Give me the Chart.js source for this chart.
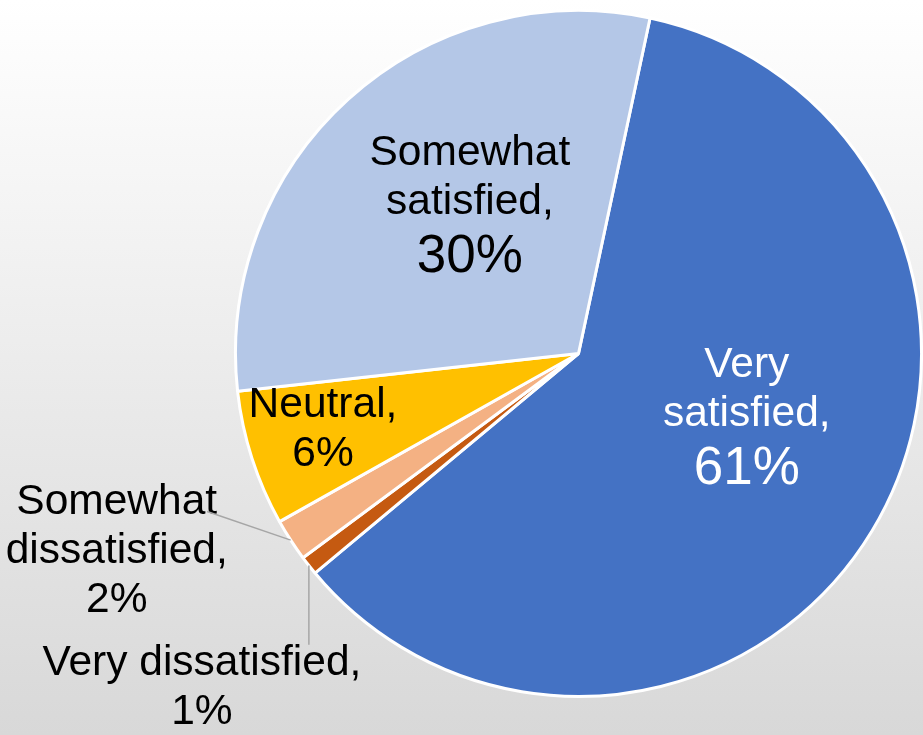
<!DOCTYPE html>
<html><head><meta charset="utf-8">
<script src="https://cdn.jsdelivr.net/npm/chart.js@4.4.1/dist/chart.umd.min.js"></script>
<style>
html,body{margin:0;padding:0;width:923px;height:735px;overflow:hidden;background:linear-gradient(to bottom,#ffffff 0%,#d8d8d8 100%);}
canvas{display:block;}
</style></head><body>
<canvas id="c" width="923" height="735"></canvas>
<script>
// ---- data ----
const categories = ["Very satisfied", "Very dissatisfied", "Somewhat dissatisfied", "Neutral", "Somewhat satisfied"];
const shares = [60.6, 0.9, 2.0, 6.4, 30.1];
const sliceColors = ["#4472C4", "#C55A11", "#F4B183", "#FFC000", "#B4C7E7"];

// ---- label layout (style, not data) ----
const FONT = '"Liberation Sans", Arial, sans-serif';
const NAME_SIZE = 42.5;
const labelPlacement = [
  {mode: 'in', ang: 0.453, rad: 0.525, color: '#ffffff', wrap: true, pct: 53},
  {mode: 'out', dx: -107, dy: 120, color: '#000000', wrap: false, pct: 42.5, leader: 'down'},
  {mode: 'out', dx: -174, dy: 9, color: '#000000', wrap: true, pct: 42.5, leader: 'side'},
  {mode: 'in', ang: 0.579, rad: 0.775, color: '#000000', wrap: false, pct: 42.5},
  {mode: 'in', ang: 0.554, rad: 0.535, color: '#000000', wrap: true, pct: 53}
];

const pieLabels = {
  id: 'pieLabels',
  afterDatasetsDraw(chart) {
    const ctx = chart.ctx;
    const meta = chart.getDatasetMeta(0);
    const total = shares.reduce((a, b) => a + b, 0);
    meta.data.forEach((arc, i) => {
      const {x, y, startAngle, endAngle, outerRadius} =
        arc.getProps(['x', 'y', 'startAngle', 'endAngle', 'outerRadius'], true);
      const p = labelPlacement[i];
      const name = categories[i] + ',';
      let lines;
      if (p.wrap) { const k = name.indexOf(' '); lines = [name.slice(0, k), name.slice(k + 1)]; }
      else lines = [name];
      const sizes = lines.map(() => NAME_SIZE);
      lines.push(Math.round(shares[i] / total * 100) + '%');
      sizes.push(p.pct);
      let cx, cy, ex, ey;
      if (p.mode === 'in') {
        const a = startAngle + p.ang * (endAngle - startAngle);
        cx = x + outerRadius * p.rad * Math.cos(a);
        cy = y + outerRadius * p.rad * Math.sin(a);
      } else {
        const a = (startAngle + endAngle) / 2;
        ex = x + outerRadius * Math.cos(a);
        ey = y + outerRadius * Math.sin(a);
        cx = ex + p.dx; cy = ey + p.dy;
      }
      const adv = sizes.map(s => s * 1.15);
      const H = adv.reduce((a, b) => a + b, 0);
      let top = cy - H / 2;
      const baselines = [];
      ctx.save();
      ctx.textAlign = 'center';
      ctx.textBaseline = 'alphabetic';
      ctx.fillStyle = p.color;
      lines.forEach((t, j) => {
        const b = top + adv[j] - 0.24 * sizes[j];
        baselines.push(b);
        ctx.font = sizes[j] + 'px ' + FONT;
        ctx.fillText(t, cx, b);
        top += adv[j];
      });
      if (p.leader) {
        ctx.strokeStyle = '#a6a6a6';
        ctx.lineWidth = 1.5;
        ctx.beginPath();
        ctx.moveTo(ex, ey);
        if (p.leader === 'down') {
          ctx.lineTo(ex, baselines[0] - 0.72 * sizes[0]);
        } else {
          ctx.font = sizes[0] + 'px ' + FONT;
          const w = ctx.measureText(lines[0]).width;
          ctx.lineTo(cx + w / 2 - 10, baselines[0] - 3);
        }
        ctx.stroke();
      }
      ctx.restore();
    });
  }
};

new Chart(document.getElementById('c'), {
  type: 'pie',
  data: {
    labels: categories,
    datasets: [{
      data: shares,
      backgroundColor: sliceColors,
      borderColor: '#ffffff',
      borderWidth: 3
    }]
  },
  options: {
    responsive: false,
    devicePixelRatio: 1,
    animation: false,
    rotation: 12.04,
    layout: {padding: {left: 234, right: 0, top: 0, bottom: 28}},
    plugins: {legend: {display: false}, tooltip: {enabled: false}}
  },
  plugins: [pieLabels]
});
</script>
</body></html>
